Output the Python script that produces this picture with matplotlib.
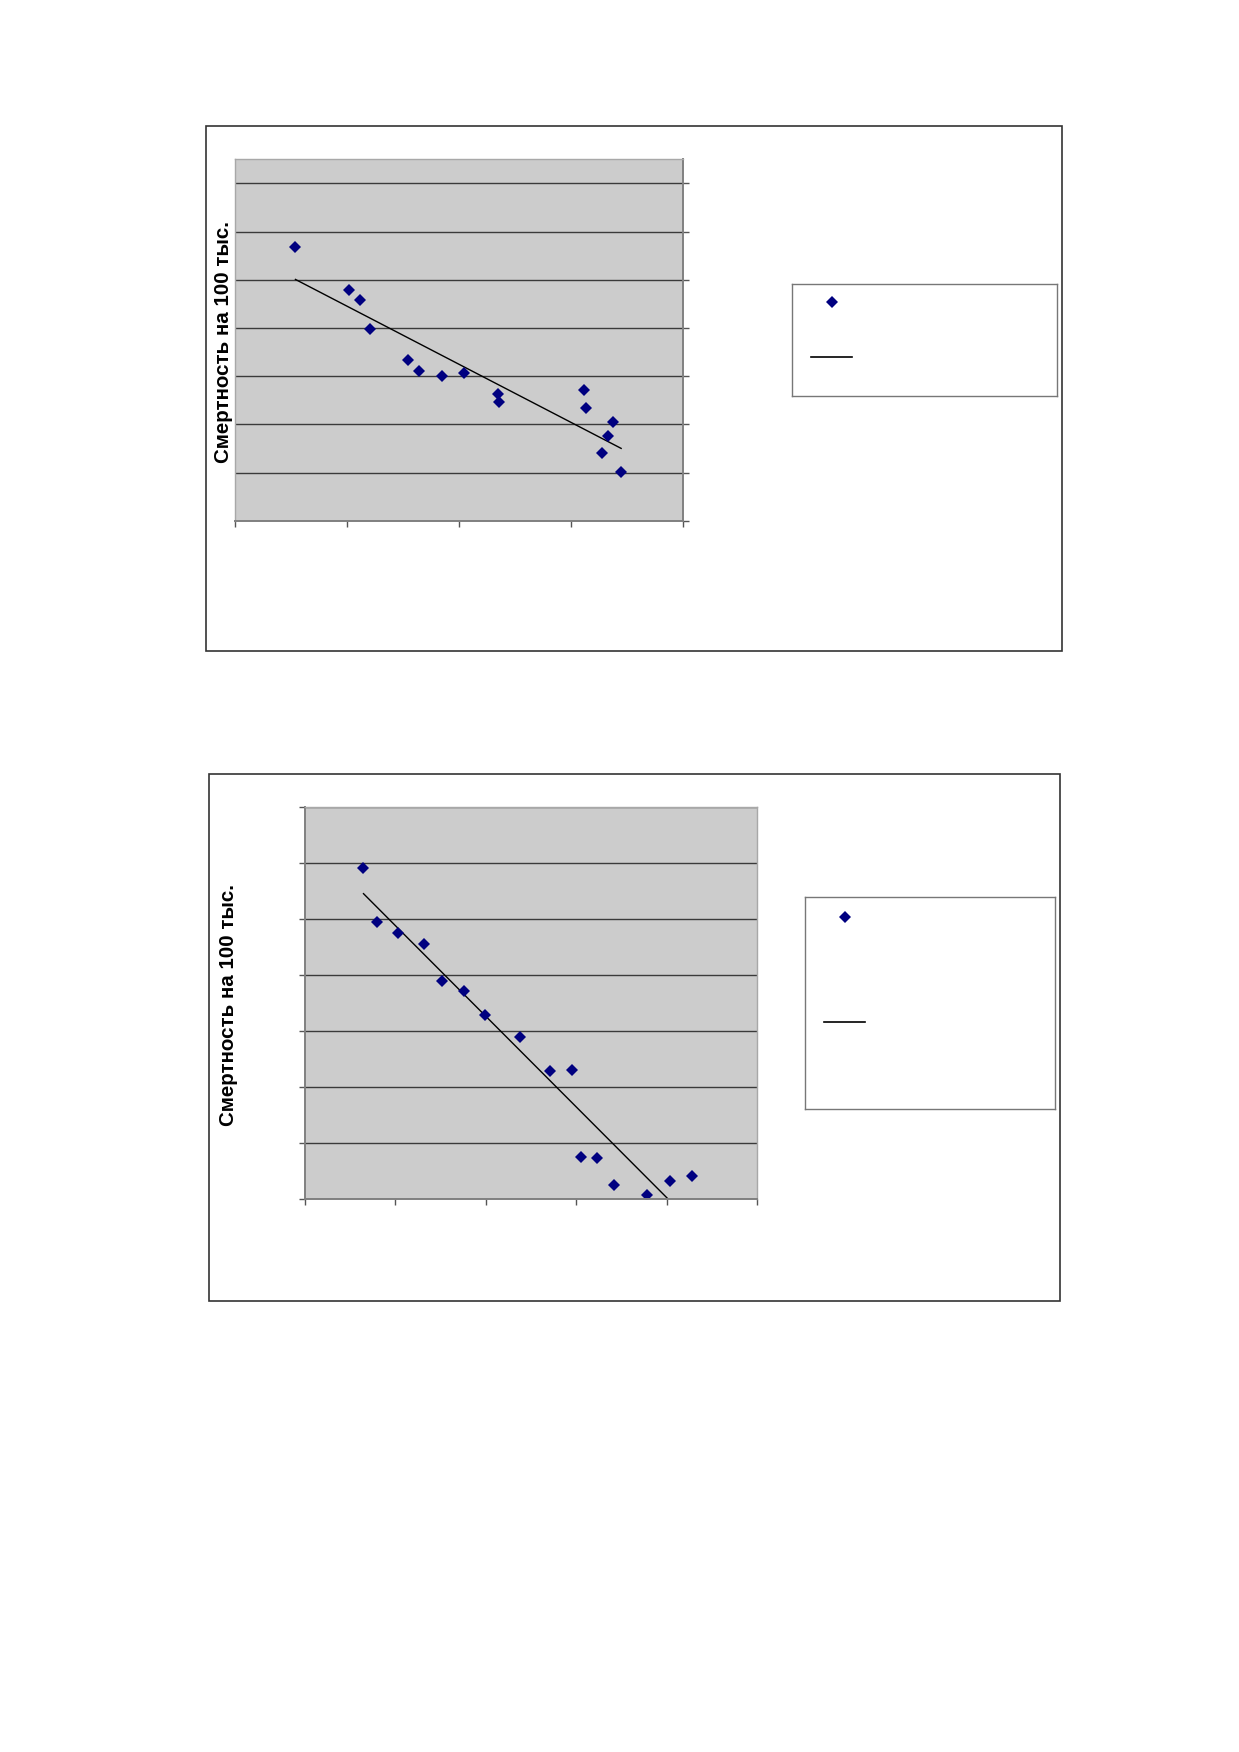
import numpy as np
import matplotlib
matplotlib.use('Agg')
from matplotlib import pyplot as plt
from matplotlib.patches import Rectangle

plt.rcParams['font.family'] = ['Liberation Sans', 'DejaVu Sans']

# chart 1 (upper)
x1 = [0.54, 1.02, 1.12, 1.21, 1.55, 1.64, 1.85, 2.05, 2.35, 2.36,
      3.12, 3.14, 3.38, 3.33, 3.28, 3.45]
y1 = [5.67, 4.79, 4.58, 3.98, 3.34, 3.11, 3.00, 3.06, 2.63, 2.46,
      2.72, 2.33, 2.04, 1.76, 1.40, 1.01]

# chart 2 (lower)
x2 = [0.65, 0.80, 1.03, 1.32, 1.52, 1.76, 1.99, 2.38, 2.71, 2.95,
      3.05, 3.23, 3.42, 3.78, 4.04, 4.28]
y2 = [5.92, 4.96, 4.76, 4.56, 3.89, 3.72, 3.29, 2.89, 2.29, 2.31,
      0.76, 0.73, 0.25, 0.08, 0.33, 0.42]

ylabel = 'Смертность на 100 тыс.'

W, H = 1239, 1752
fig = plt.figure(figsize=(W / 100, H / 100), dpi=100)


def fbox(x0, y0, x1_, y1_):
    # pixel box (top-left origin) -> figure fraction rect
    return [x0 / W, 1 - y1_ / H, (x1_ - x0) / W, (y1_ - y0) / H]


def frame(x0, y0, x1_, y1_, lw=1.2, color='#333333'):
    l, b, w, h = fbox(x0, y0, x1_, y1_)
    fig.patches.append(Rectangle((l, b), w, h, transform=fig.transFigure,
                                 fill=False, edgecolor=color, lw=lw))


def chart(rect, xs, ys, xmax, ymax, ytop, right_axis):
    ax = fig.add_axes(rect)
    ax.set_facecolor('#cccccc')
    ax.set_xlim(0, xmax)
    ax.set_ylim(0, ytop)
    ax.set_xticks(np.arange(0, xmax + 1))
    ax.set_yticks(np.arange(0, ymax + 1))
    ax.set_xticklabels([])
    ax.set_yticklabels([])
    ax.grid(axis='y', color='#3a3a3a', lw=1.0)
    ax.set_axisbelow(True)
    for s in ax.spines.values():
        s.set_color('#a8a8a8')
        s.set_linewidth(1.0)
    ax.spines['bottom'].set_color('#808080')
    ax.spines['bottom'].set_linewidth(1.4)
    if right_axis:
        ax.yaxis.tick_right()
        ax.spines['right'].set_color('#808080')
        ax.spines['right'].set_linewidth(1.4)
    else:
        ax.spines['left'].set_color('#808080')
        ax.spines['left'].set_linewidth(1.4)
    ax.tick_params(direction='out', length=4.5, width=1.0, color='#555555')

    xs = np.array(xs)
    ys = np.array(ys)
    k, b = np.polyfit(xs, ys, 1)
    xl = np.array([xs.min(), xs.max()])
    ax.plot(xl, k * xl + b, color='black', lw=1.0)
    ax.plot(xs, ys, linestyle='none', marker='D', markersize=6.5,
            color='#000080', markeredgewidth=0)
    return ax


def legend_box(x0, y0, x1_, y1_, mpt, lpt):
    lax = fig.add_axes(fbox(x0, y0, x1_, y1_))
    lax.set_xlim(x0, x1_)
    lax.set_ylim(y1_, y0)
    lax.set_xticks([])
    lax.set_yticks([])
    for s in lax.spines.values():
        s.set_color('#777777')
        s.set_linewidth(1.0)
    lax.plot([mpt[0]], [mpt[1]], linestyle='none', marker='D', markersize=6.5,
             color='#000080', markeredgewidth=0)
    lax.plot([lpt[0], lpt[1]], [lpt[2], lpt[2]], color='black', lw=1.2)


# upper chart
frame(205.7, 126, 1062.3, 650.7)
chart(fbox(235, 159.3, 682.7, 520.7), x1, y1, 4, 7, 7.5, True)
legend_box(792.3, 284.3, 1057.3, 396.3, (831.7, 302.3), (810.7, 852, 356.7))
fig.text(223.3 / W, 1 - 341.7 / H, ylabel, rotation=90, ha='center',
         va='center', fontsize=14.8, fontweight='bold')

# lower chart
frame(209.3, 774.3, 1060, 1301)
chart(fbox(304.7, 807.3, 757, 1199.3), x2, y2, 5, 7, 7, False)
legend_box(805.3, 896.7, 1054.6, 1109.3, (844.7, 917.3), (824, 865.3, 1021.7))
fig.text(228.3 / W, 1 - 1005 / H, ylabel, rotation=90, ha='center',
         va='center', fontsize=14.8, fontweight='bold')

fig.savefig('out.png', dpi=100, facecolor='white')
